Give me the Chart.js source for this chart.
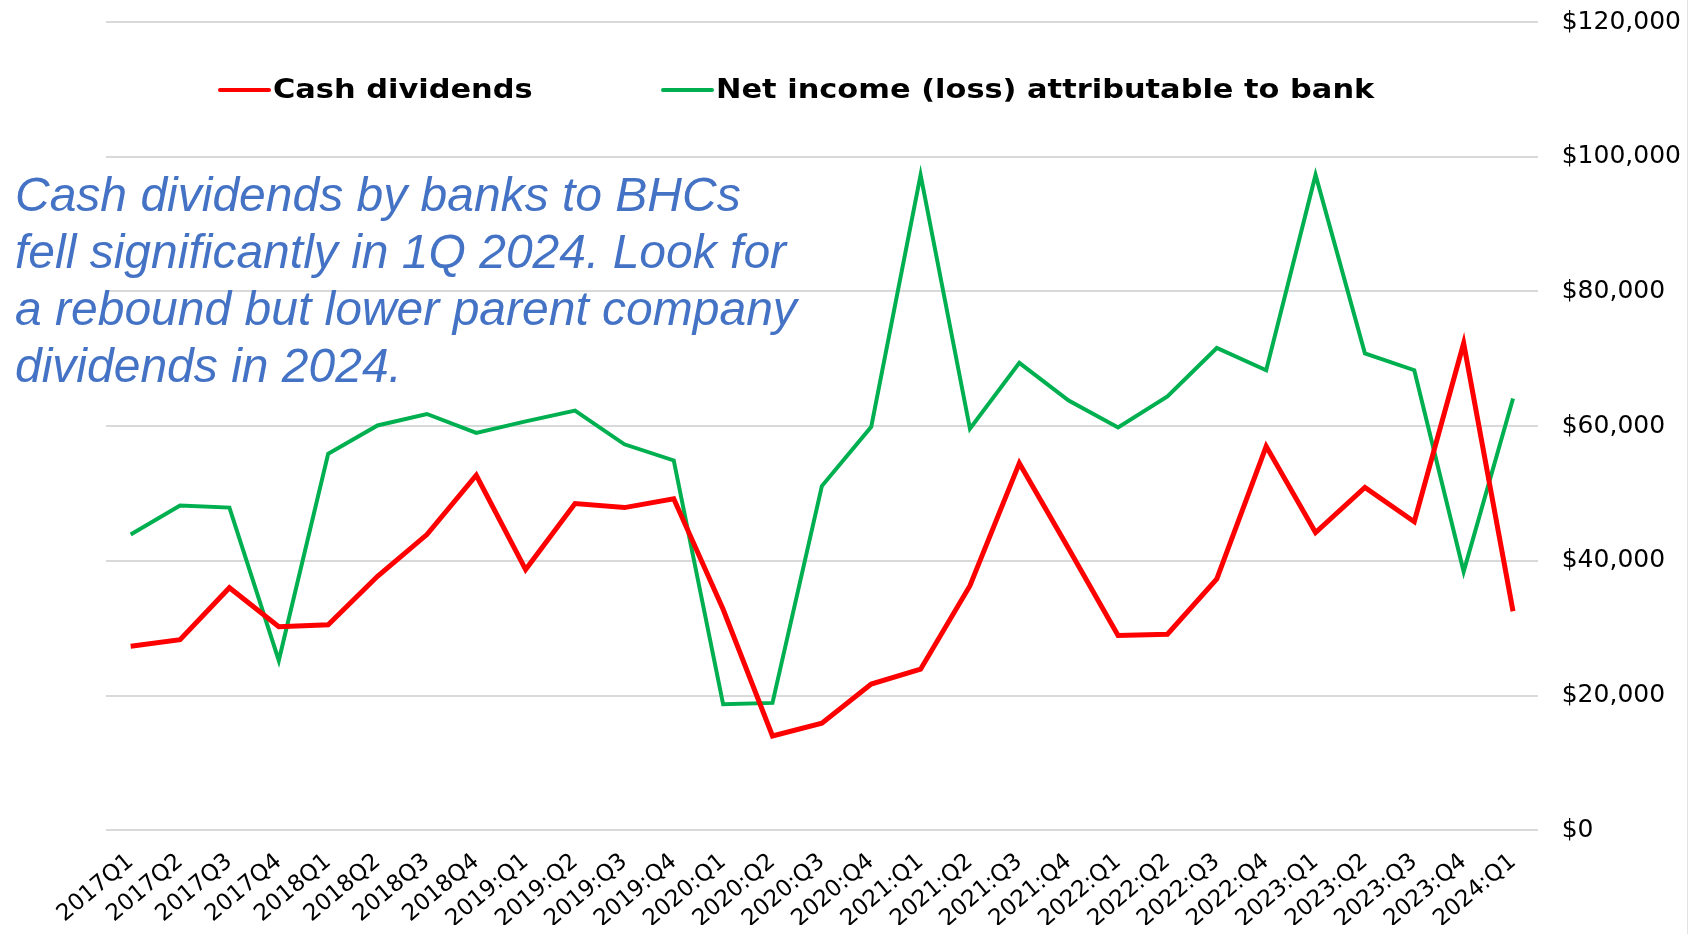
<!DOCTYPE html>
<html>
<head>
<meta charset="utf-8">
<script src="https://cdn.jsdelivr.net/npm/chart.js@4"></script>
<style>
  html, body { margin: 0; padding: 0; background: #fff; }
  #wrap { position: relative; width: 1692px; height: 934px; }
  #note {
    position: absolute; left: 15px; top: 166px;
    font: italic 48px "Liberation Sans", Arial, sans-serif;
    line-height: 57px; color: #4472c4; white-space: nowrap;
  }
  #edge { position: absolute; right: 4px; top: 0; width: 1px; height: 934px; background: #e3e3e3; }
</style>
</head>
<body>
<div id="wrap">
  <canvas id="grafico" width="1692" height="934"></canvas>
  <div id="note">Cash dividends by banks to BHCs<br>fell significantly in 1Q 2024. Look for<br>a rebound but lower parent company<br>dividends in 2024.</div>
  <div id="edge"></div>
</div>
<script>
const quarters = [
  '2017Q1', '2017Q2', '2017Q3', '2017Q4',
  '2018Q1', '2018Q2', '2018Q3', '2018Q4',
  '2019:Q1', '2019:Q2', '2019:Q3', '2019:Q4',
  '2020:Q1', '2020:Q2', '2020:Q3', '2020:Q4',
  '2021:Q1', '2021:Q2', '2021:Q3', '2021:Q4',
  '2022:Q1', '2022:Q2', '2022:Q3', '2022:Q4',
  '2023:Q1', '2023:Q2', '2023:Q3', '2023:Q4',
  '2024:Q1'
];

// millions of dollars
const cashDividends = [
  27300, 28300, 36000, 30200,
  30500, 37700, 43900, 52700,
  38700, 48500, 47900, 49200,
  32800, 14000, 15900, 21700,
  23900, 36300, 54500, 41800,
  28900, 29100, 37300, 57000,
  44200, 50900, 45800, 72300,
  32500
];

const netIncome = [
  43900, 48200, 47900, 25200,
  55900, 60100, 61800, 59000,
  60700, 62300, 57300, 54900,
  18700, 18900, 51100, 59900,
  97300, 59600, 69400, 63800,
  59800, 64400, 71600, 68300,
  97300, 70800, 68300, 38400,
  64100
];

const yMin = 0;
const yMax = 120000;
const yStep = 20000;

// legend drawn inside the plot, between the two top gridlines
const inlineLegend = {
  id: 'inlineLegend',
  afterDraw(chart) {
    const ctx = chart.ctx;
    const y = 90;
    const starts = [218, 661];
    ctx.save();
    ctx.font = 'bold 26px "DejaVu Sans", Verdana, sans-serif';
    ctx.textBaseline = 'middle';
    chart.data.datasets.forEach((ds, i) => {
      const x = starts[i];
      ctx.strokeStyle = ds.borderColor;
      ctx.lineWidth = 4;
      ctx.lineCap = 'round';
      ctx.beginPath();
      ctx.moveTo(x + 2, y);
      ctx.lineTo(x + 51, y);
      ctx.stroke();
      ctx.fillStyle = '#000';
      ctx.save();
      ctx.translate(x + 55, y);
      ctx.scale(1.17, 1);
      ctx.fillText(ds.label, 0, 1);
      ctx.restore();
    });
    ctx.restore();
  }
};

const tickFont = '"DejaVu Sans", Verdana, sans-serif';

const ctx = document.getElementById('grafico').getContext('2d');
new Chart(ctx, {
  type: 'line',
  data: {
    labels: quarters,
    datasets: [
      {
        label: 'Cash dividends',
        data: cashDividends,
        borderColor: '#ff0000',
        backgroundColor: '#ff0000',
        borderWidth: 5,
        pointRadius: 0,
        tension: 0
      },
      {
        label: 'Net income (loss) attributable to bank',
        data: netIncome,
        borderColor: '#00b050',
        backgroundColor: '#00b050',
        borderWidth: 4,
        pointRadius: 0,
        tension: 0
      }
    ]
  },
  options: {
    responsive: false,
    animation: false,
    layout: { padding: { left: 106, top: 22, right: 11, bottom: 9 } },
    plugins: {
      legend: { display: false },
      tooltip: { enabled: false }
    },
    scales: {
      x: {
        offset: true,
        grid: { display: false },
        border: { display: false },
        ticks: {
          color: '#000',
          font: { family: tickFont, size: 23 },
          minRotation: 40,
          maxRotation: 40,
          autoSkip: false,
          padding: 10
        },
        // the axis reserves padding on both sides of the labels; keep only one
        afterFit: s => { s.height -= 18; }
      },
      y: {
        position: 'right',
        min: yMin,
        max: yMax,
        grid: { color: '#d9d9d9', lineWidth: 2, drawTicks: false },
        border: { display: false },
        ticks: {
          stepSize: yStep,
          padding: 24,
          color: '#000',
          font: { family: tickFont, size: 25 },
          callback: v => '$' + v.toLocaleString('en-US')
        },
        afterFit: s => {
          s.width -= s.options.ticks.padding;
          s.paddingTop = 0;
          s.paddingBottom = 0;
        }
      }
    }
  },
  plugins: [inlineLegend]
});
</script>
</body>
</html>
